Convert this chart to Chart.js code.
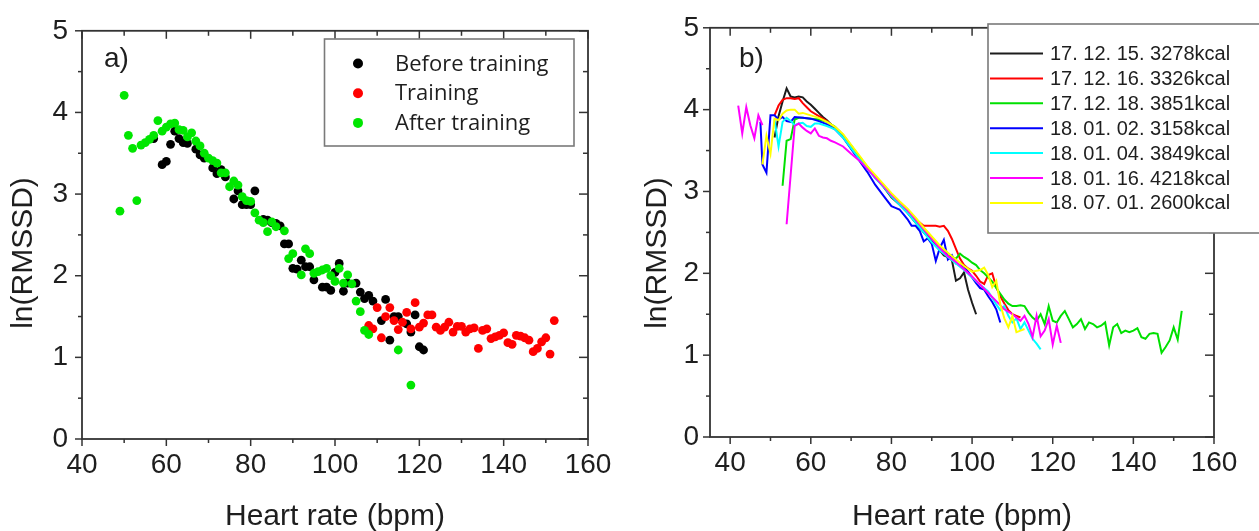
<!DOCTYPE html>
<html>
<head>
<meta charset="utf-8">
<script src="https://cdn.jsdelivr.net/npm/chart.js@4.4.1/dist/chart.umd.min.js"></script>
<style>
  html, body { margin: 0; padding: 0; background: #fff; }
  #wrap { position: relative; width: 1259px; height: 531px; overflow: hidden; }
  canvas { position: absolute; top: 0; }
  #panelA { left: 0; }
  #panelB { left: 640px; }
</style>
</head>
<body>
<div id="wrap">
  <canvas id="panelA" width="640" height="531"></canvas>
  <canvas id="panelB" width="619" height="531"></canvas>
</div>
<script>
// ---- panel a: scatter of ln(RMSSD) vs heart rate ----
const hrBefore = [57, 59, 60, 61, 62, 63, 64, 65, 67, 68, 69, 71, 72, 73, 74, 76, 77, 78, 79, 80, 81, 83, 84, 85, 86, 87, 88, 89, 90, 91, 92, 93, 94, 95, 97, 98, 99, 100, 101, 102, 103, 105, 106, 107, 108, 109, 111, 112, 113, 114, 115, 117, 118, 119, 120, 121];
const lnBefore = [3.68, 3.36, 3.40, 3.61, 3.77, 3.68, 3.63, 3.62, 3.55, 3.48, 3.44, 3.32, 3.25, 3.30, 3.21, 2.94, 3.04, 2.87, 2.87, 2.87, 3.04, 2.69, 2.68, 2.65, 2.64, 2.61, 2.39, 2.39, 2.09, 2.08, 2.19, 2.11, 2.11, 1.95, 1.86, 1.86, 1.82, 2.04, 2.15, 1.81, 1.91, 1.91, 1.80, 1.72, 1.76, 1.69, 1.45, 1.71, 1.21, 1.50, 1.50, 1.41, 1.31, 1.52, 1.13, 1.09];

const hrTraining = [108, 109, 110, 111, 112, 113, 114, 115, 116, 117, 118, 119, 120, 121, 122, 123, 124, 125, 126, 127, 128, 129, 130, 131, 132, 133, 134, 135, 136, 137, 138, 139, 140, 141, 142, 143, 144, 145, 146, 147, 148, 149, 150, 151, 152];
const lnTraining = [1.39, 1.35, 1.61, 1.24, 1.50, 1.61, 1.45, 1.34, 1.43, 1.55, 1.35, 1.67, 1.37, 1.42, 1.52, 1.52, 1.37, 1.33, 1.37, 1.43, 1.31, 1.38, 1.38, 1.31, 1.35, 1.36, 1.11, 1.33, 1.35, 1.23, 1.25, 1.27, 1.30, 1.18, 1.16, 1.27, 1.26, 1.24, 1.21, 1.07, 1.11, 1.19, 1.24, 1.04, 1.45];

const hrAfter = [49, 50, 51, 52, 53, 54, 55, 56, 57, 58, 59, 60, 61, 62, 63, 64, 65, 66, 67, 68, 69, 70, 71, 72, 73, 74, 75, 76, 77, 78, 79, 80, 81, 82, 83, 84, 85, 86, 88, 89, 90, 92, 93, 94, 95, 96, 97, 98, 99, 100, 101, 102, 103, 104, 105, 106, 107, 108, 115, 118];
const lnAfter = [2.79, 4.21, 3.72, 3.56, 2.92, 3.60, 3.63, 3.67, 3.72, 3.90, 3.77, 3.82, 3.86, 3.87, 3.79, 3.78, 3.70, 3.75, 3.65, 3.59, 3.50, 3.44, 3.41, 3.38, 3.26, 3.26, 3.09, 3.16, 3.11, 2.97, 2.92, 2.91, 2.77, 2.68, 2.65, 2.54, 2.66, 2.60, 2.55, 2.21, 2.27, 2.01, 2.33, 2.27, 2.03, 2.05, 2.07, 2.09, 2.00, 1.93, 2.09, 1.91, 2.01, 1.90, 1.69, 1.56, 1.33, 1.28, 1.09, 0.66];

// ---- panel b: one curve per recording day ----
const hrDec15 = [51, 52, 53, 54, 55, 56, 57, 58, 59, 60, 61, 62, 63, 64, 65, 66, 67, 68, 69, 70, 71, 72, 74, 76, 78, 80, 82, 84, 86, 88, 90, 92, 93, 94, 95, 96, 97, 98, 99, 100, 101];
const lnDec15 = [3.66, 3.92, 4.10, 4.26, 4.16, 4.15, 4.16, 4.15, 4.10, 4.06, 4.01, 3.96, 3.91, 3.87, 3.82, 3.78, 3.74, 3.68, 3.62, 3.55, 3.48, 3.42, 3.29, 3.17, 3.06, 2.93, 2.84, 2.74, 2.62, 2.50, 2.40, 2.28, 2.22, 2.20, 2.16, 1.91, 1.94, 2.01, 1.80, 1.64, 1.50];

const hrDec16 = [51, 52, 53, 54, 55, 56, 57, 58, 59, 60, 62, 64, 66, 68, 70, 72, 74, 76, 78, 80, 82, 84, 86, 87, 88, 89, 90, 91, 92, 93, 94, 95, 96, 97, 98, 99, 100, 101, 102, 103, 104, 105, 106, 107, 108, 109, 110, 111, 112];
const lnDec16 = [3.93, 4.05, 4.12, 4.14, 4.14, 4.13, 4.14, 4.08, 4.03, 3.98, 3.92, 3.86, 3.78, 3.68, 3.55, 3.42, 3.29, 3.17, 3.07, 2.96, 2.86, 2.76, 2.66, 2.62, 2.58, 2.58, 2.58, 2.58, 2.57, 2.58, 2.52, 2.42, 2.30, 2.18, 2.10, 2.06, 2.03, 1.97, 1.90, 1.87, 1.98, 2.00, 1.83, 1.72, 1.63, 1.55, 1.50, 1.48, 1.46];

const hrDec18 = [53, 54, 55, 56, 57, 58, 60, 62, 64, 66, 68, 70, 72, 74, 76, 78, 80, 82, 84, 86, 88, 90, 92, 94, 96, 97, 98, 99, 100, 101, 102, 103, 104, 105, 106, 107, 108, 109, 110, 111, 112, 113, 114, 115, 116, 117, 118, 119, 120, 121, 122, 123, 124, 125, 126, 127, 128, 129, 130, 131, 132, 133, 134, 135, 136, 137, 138, 139, 140, 141, 142, 143, 144, 145, 146, 147, 148, 149, 150, 151, 152];
const lnDec18 = [3.07, 3.62, 3.64, 3.88, 3.90, 3.90, 3.89, 3.88, 3.85, 3.79, 3.69, 3.56, 3.43, 3.30, 3.18, 3.08, 2.96, 2.87, 2.77, 2.66, 2.53, 2.43, 2.32, 2.22, 2.18, 2.24, 2.20, 2.17, 2.13, 2.10, 2.04, 2.00, 1.95, 1.90, 1.82, 1.75, 1.68, 1.63, 1.60, 1.60, 1.61, 1.60, 1.52, 1.46, 1.42, 1.50, 1.38, 1.60, 1.42, 1.40, 1.48, 1.54, 1.44, 1.34, 1.38, 1.44, 1.32, 1.40, 1.38, 1.34, 1.36, 1.40, 1.12, 1.34, 1.38, 1.27, 1.30, 1.28, 1.30, 1.33, 1.22, 1.20, 1.26, 1.27, 1.26, 1.03, 1.10, 1.18, 1.34, 1.19, 1.54];

const hrJan02 = [47.5, 48, 49, 50, 51, 52, 53, 54, 55, 56, 58, 60, 62, 64, 66, 68, 70, 72, 74, 76, 78, 80, 81, 82, 83, 84, 85, 86, 87, 88, 89, 90, 91, 92, 93, 94, 95, 96, 97, 98, 99, 100, 101, 102, 103, 104, 105, 106, 107];
const lnJan02 = [3.85, 3.33, 3.23, 3.93, 3.93, 3.88, 3.91, 3.86, 3.85, 3.91, 3.90, 3.89, 3.86, 3.82, 3.76, 3.66, 3.52, 3.38, 3.24, 3.08, 2.95, 2.82, 2.80, 2.78, 2.72, 2.66, 2.58, 2.58, 2.52, 2.39, 2.43, 2.36, 2.15, 2.31, 2.41, 2.17, 2.22, 2.12, 2.10, 2.08, 2.02, 1.95, 1.88, 1.82, 1.80, 1.72, 1.65, 1.56, 1.40];

const hrJan04 = [51, 52, 53, 54, 55, 56, 57, 58, 59, 60, 61, 62, 64, 66, 68, 70, 72, 74, 76, 78, 80, 82, 84, 86, 88, 90, 92, 94, 96, 98, 100, 102, 104, 106, 107, 108, 109, 110, 111, 112, 113, 114, 115, 116, 117];
const lnJan04 = [3.88, 3.55, 3.85, 3.90, 3.86, 3.81, 3.83, 3.84, 3.80, 3.79, 3.83, 3.83, 3.80, 3.76, 3.66, 3.53, 3.40, 3.28, 3.16, 3.06, 2.94, 2.84, 2.74, 2.62, 2.50, 2.38, 2.28, 2.20, 2.12, 2.04, 1.95, 1.86, 1.78, 1.62, 1.55, 1.60, 1.48, 1.40, 1.45, 1.32, 1.40, 1.30, 1.20, 1.14, 1.07];

// null = break in the recording
const hrJan16 = [42, 43, 44, 45, 46, 47, 48, 50, 54, 56, 57, 58, 59, 60, 61, 62, 63, 64, 65, 66, 68, 70, 72, 74, 76, 78, 80, 82, 84, 86, 88, 90, 92, 94, 96, 98, 100, 102, 104, 106, 108, 110, 111, 112, 113, 114, 115, 116, 117, 118, 119, 120, 121, 122];
const lnJan16 = [4.05, 3.71, 4.03, 3.81, 3.65, 3.93, 3.81, null, 2.60, 3.80, 3.83, 3.78, 3.74, 3.71, 3.77, 3.68, 3.66, 3.65, 3.62, 3.60, 3.55, 3.46, 3.38, 3.28, 3.17, 3.07, 2.96, 2.87, 2.77, 2.66, 2.54, 2.42, 2.31, 2.21, 2.14, 2.05, 1.96, 1.86, 1.76, 1.66, 1.56, 1.50, 1.46, 1.42, 1.48, 1.38, 1.22, 1.48, 1.23, 1.30, 1.44, 1.13, 1.36, 1.15];

const hrJul01 = [48, 49, 50, 51, 52, 53, 54, 55, 56, 57, 58, 60, 62, 64, 66, 68, 70, 72, 74, 76, 78, 80, 82, 84, 86, 88, 90, 92, 94, 96, 98, 100, 102, 103, 104, 105, 106, 107, 108, 109, 110, 111, 112, 113];
const lnJul01 = [3.33, 3.68, 3.46, 3.89, 3.87, 3.95, 3.99, 4.00, 4.00, 3.95, 3.96, 3.93, 3.90, 3.85, 3.79, 3.70, 3.57, 3.44, 3.31, 3.20, 3.09, 2.98, 2.88, 2.79, 2.68, 2.56, 2.45, 2.34, 2.25, 2.17, 2.09, 2.02, 2.04, 2.07, 1.98, 1.83, 1.91, 1.62, 1.45, 1.34, 1.48, 1.28, 1.30, 1.32];

const dayLabels = ['17. 12. 15. 3278kcal', '17. 12. 16. 3326kcal', '17. 12. 18. 3851kcal', '18. 01. 02. 3158kcal', '18. 01. 04. 3849kcal', '18. 01. 16. 4218kcal', '18. 07. 01. 2600kcal'];
const dayColors = ['#1c1c1c', '#ff0000', '#00e000', '#0000ff', '#00ffff', '#ff00ff', '#ffff00'];

const hrTicks = [40, 60, 80, 100, 120, 140, 160];
const hrMinor = [50, 70, 90, 110, 130, 150];
const lnTicks = [0, 1, 2, 3, 4, 5];
const lnMinor = [0.5, 1.5, 2.5, 3.5, 4.5];

const INK = '#1e1e1e';
const AXIS = '#333';
const SANS = '"Liberation Sans", Arial, sans-serif';

const pts = (xs, ys) => xs.map((x, i) => ({ x, y: ys[i] }));

function seg(ctx, x1, y1, x2, y2) {
  ctx.beginPath();
  ctx.moveTo(x1, y1);
  ctx.lineTo(x2, y2);
  ctx.stroke();
}

// frame with origin-style ticks, axis titles, panel tag and boxed legend
const decor = {
  id: 'decor',
  afterDraw(chart, args, o) {
    const { ctx, chartArea: a, scales: { x, y } } = chart;
    ctx.save();
    ctx.strokeStyle = AXIS;
    ctx.lineWidth = 1.8;
    ctx.strokeRect(a.left, a.top, a.right - a.left, a.bottom - a.top);

    ctx.lineWidth = 1.5;
    hrTicks.concat(hrMinor).forEach(v => {
      const major = hrTicks.includes(v);
      const px = x.getPixelForValue(v);
      seg(ctx, px, a.bottom, px, a.bottom + (major ? 7 : 4));
      seg(ctx, px, a.top, px, a.top + (major ? 8 : 5));
    });
    lnTicks.concat(lnMinor).forEach(v => {
      const major = lnTicks.includes(v);
      const py = y.getPixelForValue(v);
      seg(ctx, a.left - (major ? 7 : 4), py, a.left, py);
      seg(ctx, a.right - (major ? 9 : 5), py, a.right, py);
    });

    ctx.fillStyle = INK;
    ctx.font = '30px ' + SANS;
    ctx.textAlign = 'center';
    ctx.textBaseline = 'alphabetic';
    ctx.fillText('Heart rate (bpm)', (a.left + a.right) / 2, 525);
    ctx.save();
    ctx.translate(o.yTitleX, 253);
    ctx.rotate(-Math.PI / 2);
    ctx.fillText('ln(RMSSD)', 0, 0);
    ctx.restore();

    ctx.font = '28px ' + SANS;
    ctx.textAlign = 'left';
    ctx.fillText(o.tag, o.tagX, 67);

    // legend box
    const L = o.legend;
    ctx.fillStyle = '#fff';
    ctx.fillRect(L.x, L.y, L.w, L.h);
    ctx.strokeStyle = '#7a7a7a';
    ctx.lineWidth = 1.6;
    ctx.strokeRect(L.x, L.y, L.w, L.h);
    ctx.font = L.font;
    ctx.textBaseline = 'middle';
    chart.data.datasets.forEach((ds, i) => {
      const ry = L.row0 + i * L.step;
      if (L.dots) {
        ctx.fillStyle = ds.backgroundColor;
        ctx.beginPath();
        ctx.arc(L.markX, ry, 5, 0, Math.PI * 2);
        ctx.fill();
      } else {
        ctx.strokeStyle = ds.borderColor;
        ctx.lineWidth = 2;
        seg(ctx, L.markX, ry, L.markX + 53, ry);
      }
      ctx.fillStyle = INK;
      ctx.fillText(ds.label, L.textX, ry + 1);
    });
    ctx.restore();
  }
};

function scales(xMin, yWidth, xHeight, yPad) {
  return {
    x: {
      type: 'linear', min: xMin, max: 160,
      afterBuildTicks: s => { s.ticks = hrTicks.map(v => ({ value: v })); },
      afterFit: s => { s.height = xHeight; },
      grid: { display: false, drawTicks: false },
      border: { display: false },
      ticks: { padding: 9, color: INK, font: { family: SANS, size: 28 }, maxRotation: 0, autoSkip: false }
    },
    y: {
      type: 'linear', min: 0, max: 5,
      afterBuildTicks: s => { s.ticks = lnTicks.map(v => ({ value: v })); },
      afterFit: s => { s.width = yWidth; },
      grid: { display: false, drawTicks: false },
      border: { display: false },
      ticks: { padding: yPad, color: INK, font: { family: SANS, size: 28 } }
    }
  };
}

const common = {
  responsive: false,
  devicePixelRatio: 1,
  animation: false,
  events: [],
  plugins: { legend: { display: false }, tooltip: { enabled: false } }
};

new Chart(document.getElementById('panelA'), {
  type: 'scatter',
  data: {
    datasets: [
      { label: 'Before training', data: pts(hrBefore, lnBefore), backgroundColor: '#000', order: 2 },
      { label: 'Training', data: pts(hrTraining, lnTraining), backgroundColor: '#ff0000', order: 1 },
      { label: 'After training', data: pts(hrAfter, lnAfter), backgroundColor: '#00e600', order: 0 }
    ].map(d => ({ ...d, pointRadius: 4.4, borderWidth: 0 }))
  },
  options: {
    ...common,
    layout: { padding: { left: 0, right: 52, top: 25, bottom: 0 } },
    scales: scales(40, 82, 92, 14),
    plugins: {
      ...common.plugins,
      decor: {
        yTitleX: 32, tag: 'a)', tagX: 104,
        legend: { x: 324.5, y: 39, w: 249.5, h: 107, row0: 63.5, step: 29.7, markX: 358, textX: 395, dots: true, font: '22px "Open Sans", sans-serif' }
      }
    }
  },
  plugins: [decor]
});

const daySeries = [[hrDec15, lnDec15], [hrDec16, lnDec16], [hrDec18, lnDec18], [hrJan02, lnJan02], [hrJan04, lnJan04], [hrJan16, lnJan16], [hrJul01, lnJul01]];

new Chart(document.getElementById('panelB'), {
  type: 'scatter',
  data: {
    datasets: daySeries.map(([xs, ys], i) => ({
      label: dayLabels[i],
      data: pts(xs, ys),
      showLine: true,
      spanGaps: false,
      borderColor: dayColors[i],
      backgroundColor: dayColors[i],
      borderWidth: 2,
      pointRadius: 0,
      order: 7 - i
    }))
  },
  options: {
    ...common,
    layout: { padding: { left: 0, right: 45, top: 25, bottom: 0 } },
    scales: scales(35, 70, 94, 11),
    plugins: {
      ...common.plugins,
      decor: {
        yTitleX: 26, tag: 'b)', tagX: 99,
        legend: { x: 348, y: 24, w: 272, h: 209, row0: 53.5, step: 24.9, markX: 350, textX: 410, dots: false, font: '20px ' + SANS }
      }
    }
  },
  plugins: [decor]
});
</script>
</body>
</html>
